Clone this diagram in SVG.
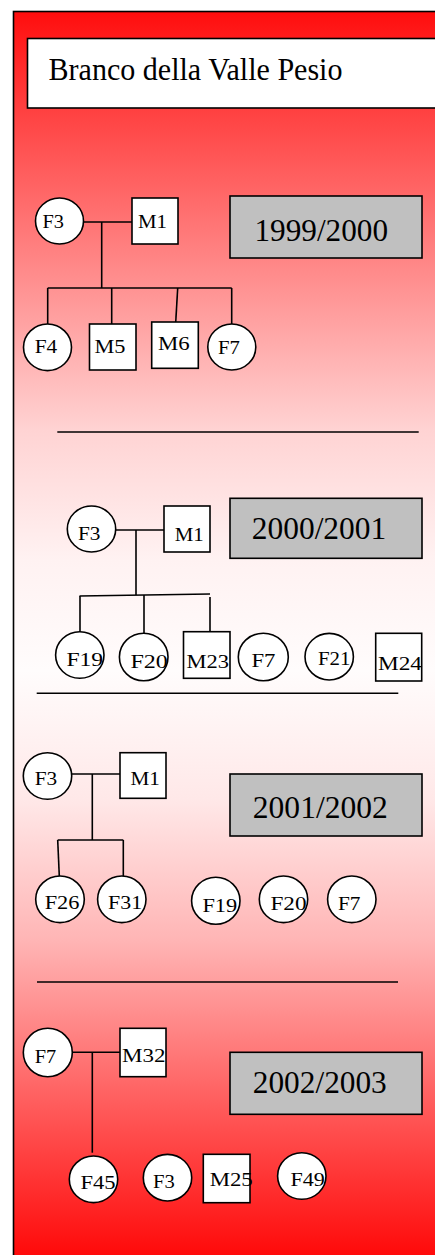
<svg xmlns="http://www.w3.org/2000/svg" width="435" height="1255" viewBox="0 0 435 1255">
<defs>
<linearGradient id="bg" gradientUnits="userSpaceOnUse" x1="0" y1="11" x2="0" y2="1255">
<stop offset="0" stop-color="#ff0d0d"/>
<stop offset="0.072" stop-color="#ff3c3c"/>
<stop offset="0.152" stop-color="#ff6a6a"/>
<stop offset="0.337" stop-color="#ffd3d3"/>
<stop offset="0.441" stop-color="#fff2f2"/>
<stop offset="0.53" stop-color="#fffcfc"/>
<stop offset="0.634" stop-color="#ffe8e8"/>
<stop offset="0.747" stop-color="#ffb5b5"/>
<stop offset="0.811" stop-color="#ff8a8a"/>
<stop offset="0.956" stop-color="#ff2828"/>
<stop offset="1" stop-color="#ff0a0a"/>
</linearGradient>
<style>
.sh{fill:#fff;stroke:#000;stroke-width:1.6}
.yb{fill:#c0c0c0;stroke:#000;stroke-width:1.6}
.ln{stroke:#000;stroke-width:1.6;fill:none}
.lb{font-family:"Liberation Serif","Times New Roman",serif;font-size:19.5px;fill:#000}
.yr{font-family:"Liberation Serif","Times New Roman",serif;font-size:31px;fill:#000}
.tt{font-family:"Liberation Serif","Times New Roman",serif;font-size:32.5px;fill:#000}
</style>
</defs>
<rect x="0" y="0" width="435" height="1255" fill="#fff"/>
<rect id="panel" x="13.5" y="11.5" width="440" height="1260" fill="url(#bg)" stroke="#000" stroke-width="1.6"/>
<g id="title">
<rect x="27.5" y="38.5" width="420" height="69.5" fill="#fff" stroke="#000" stroke-width="1.6"/>
<text class="tt" x="48.5" y="79.5" textLength="294" lengthAdjust="spacingAndGlyphs">Branco della Valle Pesio</text>
</g>
<g id="connectors">
<line class="ln" x1="83.5" y1="222" x2="132" y2="222"/>
<line class="ln" x1="101.7" y1="222" x2="101.7" y2="288"/>
<line class="ln" x1="47.7" y1="288" x2="231.7" y2="288"/>
<line class="ln" x1="47.7" y1="288" x2="47.7" y2="324"/>
<line class="ln" x1="111.7" y1="288" x2="111.7" y2="324"/>
<line class="ln" x1="177.7" y1="288" x2="175.7" y2="322.5"/>
<line class="ln" x1="231.7" y1="288" x2="231.7" y2="324"/>
<line class="ln" x1="57.3" y1="432" x2="418.7" y2="432"/>
<line class="ln" x1="115.7" y1="530" x2="164" y2="530"/>
<line class="ln" x1="136" y1="530" x2="136" y2="595"/>
<line class="ln" x1="79.5" y1="596" x2="210" y2="594"/>
<line class="ln" x1="80" y1="596" x2="80" y2="631.7"/>
<line class="ln" x1="144" y1="595" x2="144" y2="633"/>
<line class="ln" x1="210" y1="597" x2="210" y2="631.7"/>
<line class="ln" x1="36.7" y1="693.3" x2="398.3" y2="693.3"/>
<line class="ln" x1="71.7" y1="774" x2="120" y2="774"/>
<line class="ln" x1="92.3" y1="774" x2="92.3" y2="840"/>
<line class="ln" x1="57.7" y1="840" x2="123.3" y2="840"/>
<line class="ln" x1="57.7" y1="840" x2="59.3" y2="876"/>
<line class="ln" x1="123.3" y1="840" x2="123.3" y2="876"/>
<line class="ln" x1="37" y1="982" x2="398" y2="982"/>
<line class="ln" x1="72.3" y1="1052.3" x2="120" y2="1052.3"/>
<line class="ln" x1="92.3" y1="1052.3" x2="92.3" y2="1152.7"/>
</g>
<g id="y1999"><rect class="yb" x="230" y="196" width="192" height="62"/><text class="yr" x="254.5" y="240.7" textLength="133.5" lengthAdjust="spacingAndGlyphs">1999/2000</text></g>
<g id="s1-F3"><ellipse class="sh" cx="59.5" cy="221" rx="24" ry="23"/><text class="lb" x="42.4" y="227.7" textLength="21.5" lengthAdjust="spacingAndGlyphs">F3</text></g>
<g id="s1-M1"><rect class="sh" x="132" y="198" width="46" height="46"/><text class="lb" x="138" y="227.7" textLength="29" lengthAdjust="spacingAndGlyphs">M1</text></g>
<g id="s1-F4"><ellipse class="sh" cx="47.5" cy="347.3" rx="24" ry="23.3"/><text class="lb" x="34.7" y="352.7" textLength="22.5" lengthAdjust="spacingAndGlyphs">F4</text></g>
<g id="s1-M5"><rect class="sh" x="89.5" y="324" width="46.5" height="46"/><text class="lb" x="94.4" y="352.7" textLength="31" lengthAdjust="spacingAndGlyphs">M5</text></g>
<g id="s1-M6"><rect class="sh" x="151.7" y="322" width="46.6" height="46.3"/><text class="lb" x="158" y="350" textLength="31.7" lengthAdjust="spacingAndGlyphs">M6</text></g>
<g id="s1-F7"><ellipse class="sh" cx="231.8" cy="347" rx="24" ry="23"/><text class="lb" x="218" y="354" textLength="21.8" lengthAdjust="spacingAndGlyphs">F7</text></g>
<g id="y2000"><rect class="yb" x="230" y="498.3" width="192" height="60"/><text class="yr" x="251.8" y="539.3" textLength="134.4" lengthAdjust="spacingAndGlyphs">2000/2001</text></g>
<g id="s2-F3"><ellipse class="sh" cx="91.5" cy="529" rx="24.2" ry="23"/><text class="lb" x="78" y="540" textLength="22.5" lengthAdjust="spacingAndGlyphs">F3</text></g>
<g id="s2-M1"><rect class="sh" x="164" y="506" width="46" height="46"/><text class="lb" x="174.7" y="540.5" textLength="29" lengthAdjust="spacingAndGlyphs">M1</text></g>
<g id="s2-F19"><ellipse class="sh" cx="79.8" cy="655" rx="24.2" ry="23.3"/><text class="lb" x="66.4" y="665.7" textLength="36.8" lengthAdjust="spacingAndGlyphs">F19</text></g>
<g id="s2-F20"><ellipse class="sh" cx="143.7" cy="657" rx="24.3" ry="23.8"/><text class="lb" x="130.4" y="668.3" textLength="37.5" lengthAdjust="spacingAndGlyphs">F20</text></g>
<g id="s2-M23"><rect class="sh" x="183.5" y="631.7" width="46.5" height="46.6"/><text class="lb" x="186.4" y="667.7" textLength="42.5" lengthAdjust="spacingAndGlyphs">M23</text></g>
<g id="s2-F7"><ellipse class="sh" cx="263.3" cy="657" rx="25" ry="23.8"/><text class="lb" x="251.4" y="666.7" textLength="24" lengthAdjust="spacingAndGlyphs">F7</text></g>
<g id="s2-F21"><ellipse class="sh" cx="329.2" cy="656.7" rx="24.2" ry="23.3"/><text class="lb" x="318" y="665" textLength="32.5" lengthAdjust="spacingAndGlyphs">F21</text></g>
<g id="s2-M24"><rect class="sh" x="375.7" y="633.3" width="46" height="47.7"/><text class="lb" x="378" y="670" textLength="44" lengthAdjust="spacingAndGlyphs">M24</text></g>
<g id="y2001"><rect class="yb" x="230" y="774" width="192" height="62"/><text class="yr" x="252.8" y="817.7" textLength="135" lengthAdjust="spacingAndGlyphs">2001/2002</text></g>
<g id="s3-F3"><ellipse class="sh" cx="47.5" cy="776" rx="24.2" ry="23.3"/><text class="lb" x="34.7" y="785" textLength="22.5" lengthAdjust="spacingAndGlyphs">F3</text></g>
<g id="s3-M1"><rect class="sh" x="120" y="752.7" width="46" height="45.6"/><text class="lb" x="130.4" y="785" textLength="29.4" lengthAdjust="spacingAndGlyphs">M1</text></g>
<g id="s3-F26"><ellipse class="sh" cx="60" cy="899.3" rx="24.3" ry="23.3"/><text class="lb" x="44.7" y="909.3" textLength="34.8" lengthAdjust="spacingAndGlyphs">F26</text></g>
<g id="s3-F31"><ellipse class="sh" cx="121.8" cy="899.3" rx="24.2" ry="23.3"/><text class="lb" x="108" y="909.3" textLength="34.1" lengthAdjust="spacingAndGlyphs">F31</text></g>
<g id="s3-F19"><ellipse class="sh" cx="215.8" cy="900.8" rx="24.2" ry="23.5"/><text class="lb" x="202.4" y="911.7" textLength="34.8" lengthAdjust="spacingAndGlyphs">F19</text></g>
<g id="s3-F20"><ellipse class="sh" cx="283.5" cy="899.3" rx="24.2" ry="23.3"/><text class="lb" x="270.4" y="910" textLength="36.1" lengthAdjust="spacingAndGlyphs">F20</text></g>
<g id="s3-F7"><ellipse class="sh" cx="351.8" cy="899.3" rx="24.2" ry="23.3"/><text class="lb" x="338" y="910" textLength="22.5" lengthAdjust="spacingAndGlyphs">F7</text></g>
<g id="y2002"><rect class="yb" x="230" y="1052.3" width="192" height="62"/><text class="yr" x="252.8" y="1093.3" textLength="134" lengthAdjust="spacingAndGlyphs">2002/2003</text></g>
<g id="s4-F7"><ellipse class="sh" cx="47.8" cy="1052.5" rx="24.5" ry="24.2"/><text class="lb" x="34.7" y="1063.3" textLength="21.5" lengthAdjust="spacingAndGlyphs">F7</text></g>
<g id="s4-M32"><rect class="sh" x="120" y="1028.3" width="46" height="48.4"/><text class="lb" x="122" y="1061.7" textLength="43.5" lengthAdjust="spacingAndGlyphs">M32</text></g>
<g id="s4-F45"><ellipse class="sh" cx="93.5" cy="1179.3" rx="24.2" ry="23.3"/><text class="lb" x="80.4" y="1189.3" textLength="35.1" lengthAdjust="spacingAndGlyphs">F45</text></g>
<g id="s4-F3"><ellipse class="sh" cx="167.5" cy="1177.7" rx="24.2" ry="23.3"/><text class="lb" x="153" y="1187.7" textLength="21.8" lengthAdjust="spacingAndGlyphs">F3</text></g>
<g id="s4-M25"><rect class="sh" x="203.3" y="1154.3" width="46.7" height="48.4"/><text class="lb" x="209.7" y="1185.7" textLength="43.1" lengthAdjust="spacingAndGlyphs">M25</text></g>
<g id="s4-F49"><ellipse class="sh" cx="301.8" cy="1176" rx="24.2" ry="23.3"/><text class="lb" x="290.4" y="1185.7" textLength="34.4" lengthAdjust="spacingAndGlyphs">F49</text></g>
</svg>
